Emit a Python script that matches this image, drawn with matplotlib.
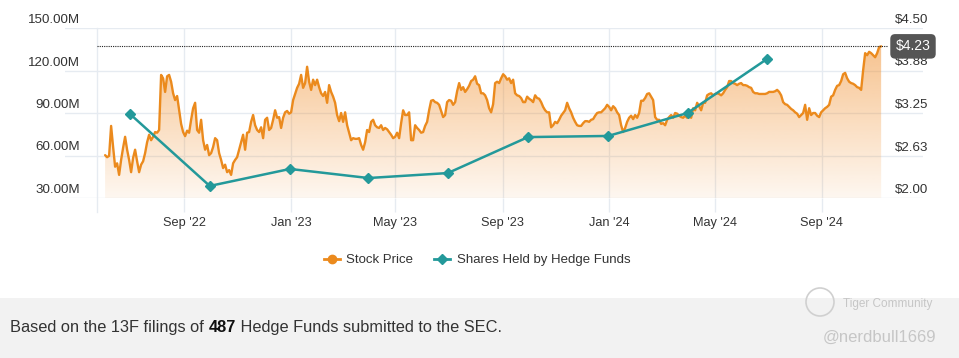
"""Stock price vs. hedge fund holdings chart."""

import matplotlib

matplotlib.use("Agg")

import matplotlib.dates as mdates
import matplotlib.pyplot as plt
import matplotlib.transforms as mtransforms
import numpy as np
import pandas as pd
from matplotlib.lines import Line2D
from matplotlib.patches import Circle, Polygon, Rectangle

plt.rcParams["font.family"] = ["Liberation Sans", "DejaVu Sans"]

# daily-ish closing price, evenly spread from stock_start to stock_end
stock_start = "2022-06-02"
stock_end = "2024-11-08"
stock_price = [
    2.63, 2.60, 2.62, 3.06, 2.75, 2.46, 2.51, 2.34, 2.56, 2.74,
    2.90, 2.71, 2.56, 2.38, 2.59, 2.71, 2.54, 2.38, 2.49, 2.54,
    2.66, 2.82, 2.93, 2.85, 2.90, 2.97, 2.96, 3.00, 3.81, 3.76,
    3.56, 3.79, 3.81, 3.71, 3.54, 3.44, 3.50, 3.29, 3.09, 2.97,
    2.91, 2.99, 2.96, 3.15, 3.32, 3.40, 3.00, 2.96, 3.15, 2.85,
    2.71, 2.78, 2.63, 2.66, 2.75, 2.88, 2.85, 2.66, 2.56, 2.44,
    2.49, 2.38, 2.41, 2.34, 2.51, 2.56, 2.60, 2.71, 2.82, 2.93,
    2.71, 2.96, 2.97, 3.12, 3.22, 3.07, 3.00, 2.97, 3.04, 2.88,
    3.15, 3.18, 3.00, 3.03, 3.15, 3.29, 3.18, 3.19, 3.03, 3.18,
    3.26, 3.28, 3.24, 3.26, 3.44, 3.53, 3.62, 3.68, 3.81, 3.62,
    3.69, 3.93, 3.71, 3.59, 3.74, 3.66, 3.74, 3.63, 3.54, 3.50,
    3.56, 3.40, 3.66, 3.56, 3.49, 3.40, 3.22, 3.13, 3.25, 3.12,
    3.26, 3.07, 2.96, 2.85, 2.88, 2.87, 2.87, 2.88, 2.78, 2.71,
    2.82, 3.00, 2.97, 3.12, 3.15, 3.07, 3.04, 3.03, 3.07, 3.00,
    3.03, 3.01, 2.97, 2.93, 2.88, 2.90, 2.96, 2.88, 3.10, 3.29,
    3.22, 3.22, 3.26, 2.85, 2.85, 3.07, 3.03, 3.00, 2.96, 2.97,
    3.06, 3.12, 3.29, 3.43, 3.44, 3.41, 3.40, 3.37, 3.28, 3.19,
    3.22, 3.41, 3.44, 3.43, 3.37, 3.41, 3.57, 3.69, 3.59, 3.63,
    3.56, 3.60, 3.65, 3.72, 3.74, 3.79, 3.68, 3.66, 3.54, 3.54,
    3.51, 3.44, 3.32, 3.26, 3.38, 3.69, 3.71, 3.69, 3.76, 3.82,
    3.79, 3.74, 3.76, 3.69, 3.74, 3.54, 3.51, 3.50, 3.47, 3.41,
    3.41, 3.49, 3.46, 3.44, 3.41, 3.51, 3.47, 3.46, 3.41, 3.34,
    3.29, 3.26, 3.26, 3.04, 3.07, 3.12, 3.10, 3.15, 3.21, 3.25,
    3.29, 3.40, 3.32, 3.26, 3.18, 3.12, 3.07, 3.06, 3.06, 3.10,
    3.13, 3.13, 3.12, 3.15, 3.16, 3.21, 3.25, 3.26, 3.26, 3.29,
    3.32, 3.37, 3.34, 3.29, 3.35, 3.32, 3.26, 3.22, 3.07, 2.97,
    3.03, 3.12, 3.18, 3.21, 3.16, 3.22, 3.18, 3.25, 3.43, 3.43,
    3.47, 3.53, 3.54, 3.49, 3.44, 3.19, 3.15, 3.15, 3.09, 3.10,
    3.07, 3.15, 3.19, 3.22, 3.18, 3.25, 3.24, 3.21, 3.19, 3.18,
    3.21, 3.18, 3.21, 3.18, 3.32, 3.29, 3.40, 3.35, 3.29, 3.40,
    3.40, 3.51, 3.53, 3.54, 3.51, 3.53, 3.54, 3.53, 3.51, 3.54,
    3.59, 3.63, 3.72, 3.72, 3.69, 3.68, 3.66, 3.68, 3.69, 3.66,
    3.66, 3.65, 3.63, 3.62, 3.56, 3.54, 3.54, 3.53, 3.53, 3.53,
    3.53, 3.54, 3.56, 3.56, 3.56, 3.57, 3.59, 3.56, 3.51, 3.41,
    3.38, 3.37, 3.34, 3.31, 3.29, 3.26, 3.24, 3.19, 3.22, 3.25,
    3.37, 3.15, 3.32, 3.22, 3.25, 3.25, 3.21, 3.19, 3.26, 3.29,
    3.32, 3.34, 3.37, 3.49, 3.51, 3.59, 3.65, 3.66, 3.72, 3.82,
    3.84, 3.76, 3.71, 3.69, 3.68, 3.66, 3.63, 3.62, 3.59, 3.88,
    4.13, 4.10, 4.15, 4.13, 4.10, 4.07, 4.13, 4.22, 4.23,
]
last_price = 4.23

# 13F quarter-end holdings, millions of shares
holding_dates = [
    "2022-06-30", "2022-09-30", "2022-12-31", "2023-03-31", "2023-06-30",
    "2023-09-30", "2023-12-31", "2024-03-31", "2024-06-30",
]
holding_shares_m = [89.6, 38.5, 50.5, 44.1, 47.6, 73.0, 73.8, 90.0, 128.1]

share_ticks = [30, 60, 90, 120, 150]
price_ticks = [2.0, 2.625, 3.25, 3.875, 4.5]
month_ticks = [
    "2022-09-01", "2023-01-01", "2023-05-01", "2023-09-01",
    "2024-01-01", "2024-05-01", "2024-09-01",
]
fund_count = 487

ORANGE = "#eb8a1d"
TEAL = "#23999a"
GRID = "#e6ebf1"
TEXT = "#333333"

W, H = 959, 358
fig = plt.figure(figsize=(W / 100, H / 100), dpi=100)
ax_p = fig.add_axes([65 / W, 1 - 198 / H, 858 / W, 170 / H])
ax_s = ax_p.twinx()

x_lo, x_hi = pd.Timestamp("2022-04-17"), pd.Timestamp("2024-12-26")
plot_start, plot_end = pd.Timestamp("2022-05-24"), pd.Timestamp("2024-11-16")

# price line + gradient area (right scale)
dates = pd.date_range(stock_start, stock_end, periods=len(stock_price))
ax_p.plot(dates, stock_price, color=ORANGE, lw=1.7, zorder=3,
          solid_joinstyle="round", solid_capstyle="round")
xn = mdates.date2num(dates)
verts = np.column_stack([np.r_[xn[0], xn, xn[-1]], np.r_[2.0, stock_price, 2.0]])
area = Polygon(verts, closed=True, facecolor="none", edgecolor="none")
ax_p.add_patch(area)
frac = np.linspace(0, 1, 256)[:, None]
rgba = np.zeros((256, 1, 4))
rgba[..., 0], rgba[..., 1], rgba[..., 2] = 240 / 255, 140 / 255, 40 / 255
rgba[..., 3] = 0.07 + 0.5 * frac
img = ax_p.imshow(rgba, extent=[xn[0], xn[-1], price_ticks[0], price_ticks[-1]],
                  origin="lower", aspect="auto", zorder=1, interpolation="bilinear")
img.set_clip_path(area)

ax_p.hlines(last_price, plot_start, plot_end, colors="#222222", lw=0.8,
            linestyles=(0, (1, 1)), zorder=4)

# holdings line (left scale)
ax_s.plot(pd.to_datetime(holding_dates), holding_shares_m, color=TEAL, lw=1.8,
          marker="D", ms=5.5, zorder=5)

for ax in (ax_p, ax_s):
    for sp in ax.spines.values():
        sp.set_visible(False)
    ax.tick_params(axis="y", length=0, labelleft=False, labelright=False)

ax_p.set_ylim(price_ticks[0], price_ticks[-1])
ax_p.set_yticks(price_ticks)
ax_s.set_ylim(share_ticks[0], share_ticks[-1])
ax_s.set_yticks(share_ticks)
ax_p.set_xlim(x_lo, x_hi)
ax_p.set_xticks(pd.to_datetime(month_ticks))
ax_p.xaxis.set_major_formatter(mdates.DateFormatter("%b '%y"))
ax_p.tick_params(axis="x", length=10, width=1, color=GRID, pad=4,
                 labelsize=9.2, labelcolor=TEXT)
ax_s.tick_params(axis="x", length=0, labelbottom=False)
ax_p.set_axisbelow(True)
ax_p.grid(True, color=GRID, lw=1)
ax_p.axvline(plot_start, ymin=-14 / 170, ymax=1, color=GRID, lw=1, clip_on=False, zorder=0)

# axis labels sit a few pixels above their grid lines
left_tr = mtransforms.offset_copy(
    mtransforms.blended_transform_factory(ax_s.transAxes, ax_s.transData), fig=fig, y=8, units="dots")
for v in ax_s.get_yticks():
    ax_s.text(15 / 858, v, f"{v:.2f}M", transform=left_tr, ha="right", va="center",
              fontsize=9.6, color=TEXT)
right_tr = mtransforms.offset_copy(
    mtransforms.blended_transform_factory(ax_p.transAxes, ax_p.transData), fig=fig, y=8, units="dots")
for v in ax_p.get_yticks():
    ax_p.text(830 / 858, v, f"${v + 1e-9:.2f}", transform=right_tr, ha="left", va="center",
              fontsize=9.6, color=TEXT)

badge_tr = mtransforms.blended_transform_factory(ax_p.transAxes, ax_p.transData)
ax_s.text(848 / 858, last_price, f"${last_price:.2f}", transform=badge_tr, ha="center",
          va="center", fontsize=10, color="white", zorder=10,
          bbox=dict(boxstyle="round,pad=0.38,rounding_size=0.35", fc="#555555", ec="none"))

# legend
handles = [
    Line2D([], [], color=ORANGE, lw=2, marker="o", ms=6),
    Line2D([], [], color=TEAL, lw=2, marker="D", ms=5),
]
fig.legend(handles, ["Stock Price", "Shares Held by Hedge Funds"], loc="center",
           bbox_to_anchor=(477 / W, 1 - 260 / H), ncol=2, frameon=False, fontsize=9.5,
           handlelength=1.2, handletextpad=0.5, columnspacing=1.6, labelcolor=TEXT)

# footer band
fig.add_artist(Rectangle((0, 0), 1, 60 / H, transform=fig.transFigure,
                         fc="#f2f2f2", ec="none", zorder=0))
renderer = fig.canvas.get_renderer()
x = 10 / W
for part, weight, col in [("Based on the 13F filings of ", "normal", TEXT),
                          (f"{fund_count}", "bold", "#111111"),
                          (" Hedge Funds submitted to the SEC.", "normal", TEXT)]:
    t = fig.text(x, 1 - 332 / H, part, fontsize=11.8, fontweight=weight, color=col,
                 ha="left", va="baseline")
    x = t.get_window_extent(renderer).x1 / W

# watermark
fig.add_artist(Circle((820, H - 302), 14, transform=mtransforms.IdentityTransform(),
                      fill=False, ec="#d0d0d0", lw=1.2))
fig.text(843 / W, 1 - 304 / H, "Tiger Community", fontsize=8.5, color="#c6c6c6",
         ha="left", va="center")
fig.text(823 / W, 1 - 337 / H, "@nerdbull1669", fontsize=12, color="#c6c6c6",
         ha="left", va="center")

fig.savefig("out.png", dpi=100)
